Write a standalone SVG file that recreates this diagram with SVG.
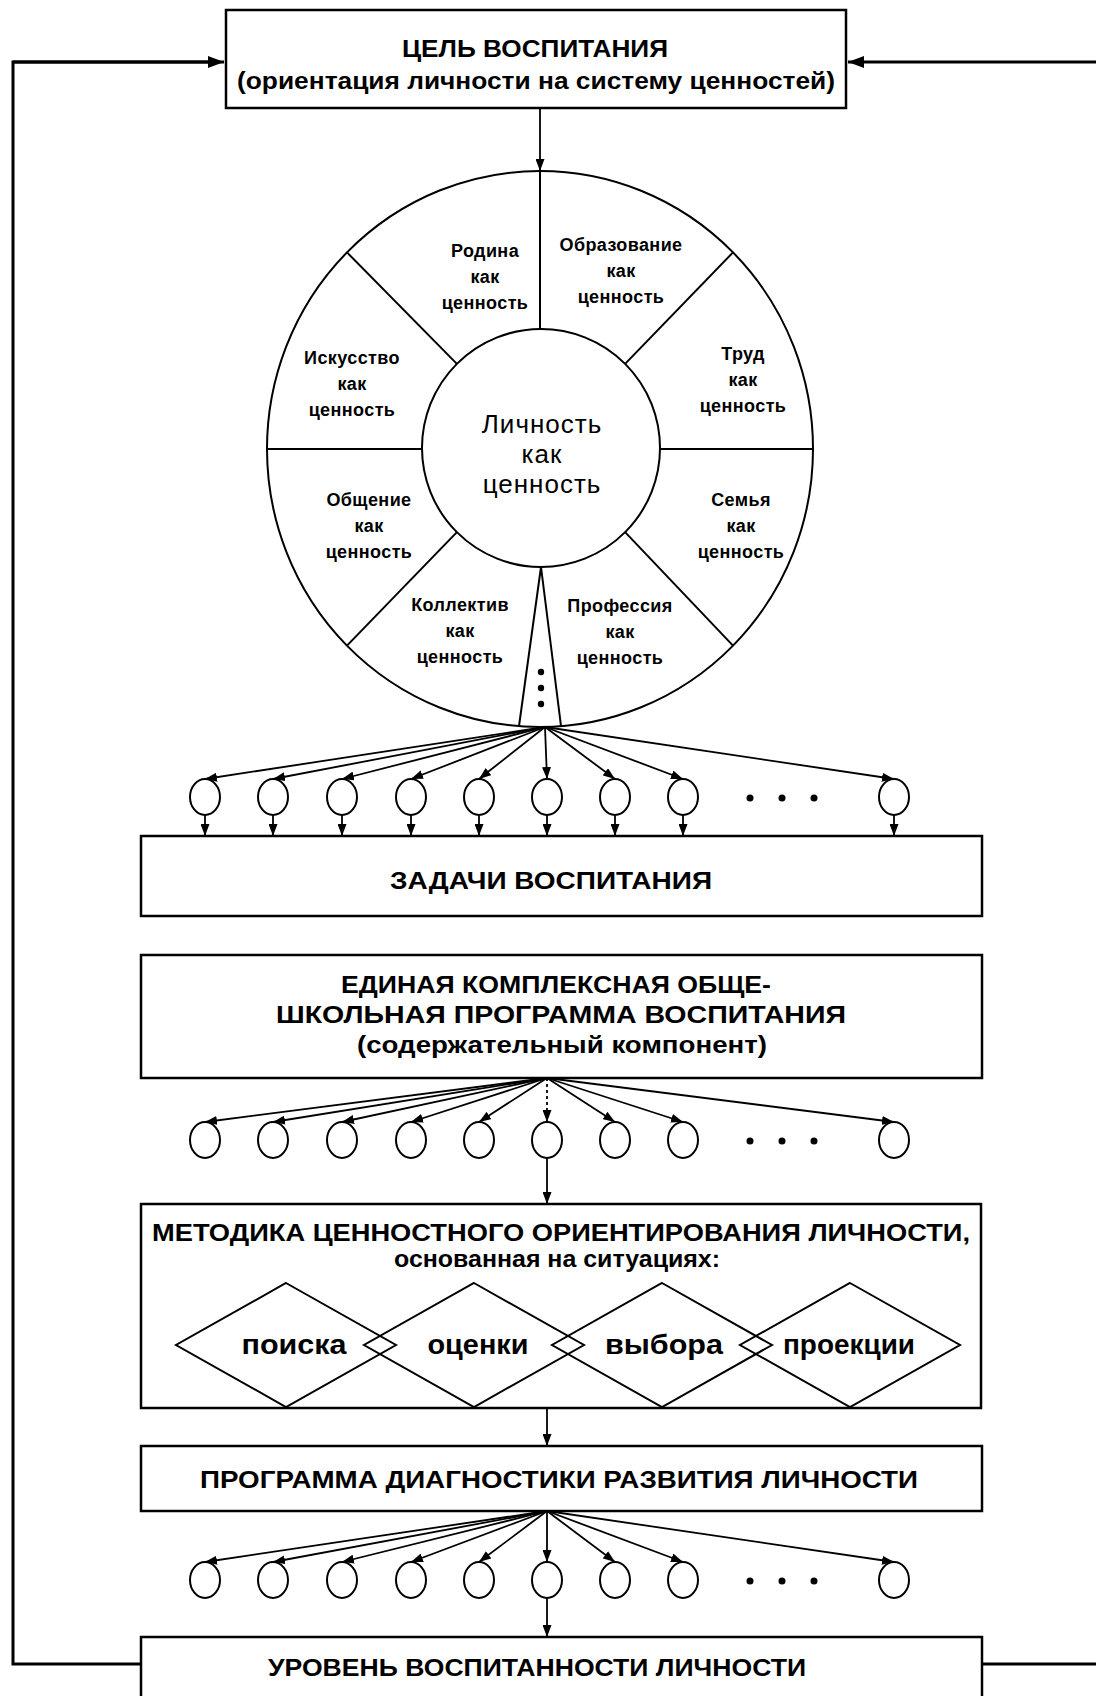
<svg xmlns="http://www.w3.org/2000/svg" width="1096" height="1696" viewBox="0 0 1096 1696">
<style>
.box{fill:#fff;stroke:#000;stroke-width:2.5}
.ln{fill:none;stroke:#000;stroke-width:2}
.fb{fill:none;stroke:#000;stroke-width:3}
.ar{fill:none;stroke:#000;stroke-width:1.8;marker-end:url(#ah)}
.c{fill:#fff;stroke:#000;stroke-width:2}
.dot{fill:#000}
text{font-family:"Liberation Sans",Arial,sans-serif;fill:#000;text-anchor:middle}
.h{font-weight:bold;font-size:23px}
.w{font-weight:bold;font-size:18px;letter-spacing:0.4px}
.p{font-size:26px;letter-spacing:1px}
.d{font-weight:bold;font-size:27px}
</style>
<defs>
<marker id="ah" markerUnits="userSpaceOnUse" markerWidth="12" markerHeight="9" refX="12" refY="4.5" orient="auto"><path d="M0,0 L12,4.5 L0,9 z" fill="#000"/></marker>
<marker id="ahb" markerUnits="userSpaceOnUse" markerWidth="16" markerHeight="12" refX="16" refY="6" orient="auto"><path d="M0,0 L16,6 L0,12 z" fill="#000"/></marker>
</defs>

<g id="connectors">
<polyline class="fb" points="141,1664 13,1664 13,62 210,62"/>
<line class="fb" x1="13" y1="62" x2="224" y2="62" marker-end="url(#ahb)"/>
<line class="fb" x1="1096" y1="62" x2="848" y2="62" marker-end="url(#ahb)"/>
<line class="fb" x1="982" y1="1664" x2="1096" y2="1664"/>
<line class="ar" x1="540" y1="108" x2="540" y2="171"/>
<g id="fan1">
<line class="ar" x1="545" y1="727" x2="205" y2="779"/>
<line class="ar" x1="545" y1="727" x2="273" y2="779"/>
<line class="ar" x1="545" y1="727" x2="342" y2="779"/>
<line class="ar" x1="545" y1="727" x2="411" y2="779"/>
<line class="ar" x1="545" y1="727" x2="479" y2="779"/>
<line class="ar" x1="545" y1="727" x2="547" y2="779"/>
<line class="ar" x1="545" y1="727" x2="615" y2="779"/>
<line class="ar" x1="545" y1="727" x2="683" y2="779"/>
<line class="ar" x1="545" y1="727" x2="894" y2="779"/>
<line class="ar" x1="205" y1="815" x2="205" y2="836"/>
<line class="ar" x1="273" y1="815" x2="273" y2="836"/>
<line class="ar" x1="342" y1="815" x2="342" y2="836"/>
<line class="ar" x1="411" y1="815" x2="411" y2="836"/>
<line class="ar" x1="479" y1="815" x2="479" y2="836"/>
<line class="ar" x1="547" y1="815" x2="547" y2="836"/>
<line class="ar" x1="615" y1="815" x2="615" y2="836"/>
<line class="ar" x1="683" y1="815" x2="683" y2="836"/>
<line class="ar" x1="894" y1="815" x2="894" y2="836"/>
</g>
<g id="fan2">
<line class="ar" x1="547" y1="1078" x2="205" y2="1122"/>
<line class="ar" x1="547" y1="1078" x2="273" y2="1122"/>
<line class="ar" x1="547" y1="1078" x2="342" y2="1122"/>
<line class="ar" x1="547" y1="1078" x2="411" y2="1122"/>
<line class="ar" x1="547" y1="1078" x2="479" y2="1122"/>
<line class="ar" x1="547" y1="1078" x2="547" y2="1122" stroke-dasharray="3,3"/>
<line class="ar" x1="547" y1="1078" x2="615" y2="1122"/>
<line class="ar" x1="547" y1="1078" x2="683" y2="1122"/>
<line class="ar" x1="547" y1="1078" x2="894" y2="1122"/>
<line class="ar" x1="547" y1="1158" x2="547" y2="1204"/>
</g>
<line class="ar" x1="547" y1="1408" x2="547" y2="1446"/>
<g id="fan3">
<line class="ar" x1="547" y1="1511" x2="205" y2="1562"/>
<line class="ar" x1="547" y1="1511" x2="273" y2="1562"/>
<line class="ar" x1="547" y1="1511" x2="342" y2="1562"/>
<line class="ar" x1="547" y1="1511" x2="411" y2="1562"/>
<line class="ar" x1="547" y1="1511" x2="479" y2="1562"/>
<line class="ar" x1="547" y1="1511" x2="547" y2="1562"/>
<line class="ar" x1="547" y1="1511" x2="615" y2="1562"/>
<line class="ar" x1="547" y1="1511" x2="683" y2="1562"/>
<line class="ar" x1="547" y1="1511" x2="894" y2="1562"/>
<line class="ar" x1="547" y1="1598" x2="547" y2="1637"/>
</g>
</g>

<g id="goal">
<rect class="box" x="226" y="10" width="620" height="98"/>
<text class="h" x="535" y="57" textLength="266" lengthAdjust="spacingAndGlyphs">ЦЕЛЬ ВОСПИТАНИЯ</text>
<text class="h" x="536" y="89" font-size="22" textLength="598" lengthAdjust="spacingAndGlyphs">(ориентация личности на систему ценностей)</text>
</g>

<g id="wheel">
<ellipse class="c" cx="540" cy="449" rx="273" ry="278"/>
<circle class="c" cx="541" cy="448" r="119"/>
<line class="ln" x1="540" y1="171" x2="540" y2="329"/>
<line class="ln" x1="456.9" y1="363.9" x2="347" y2="252.4"/>
<line class="ln" x1="625.1" y1="363.9" x2="733" y2="252.4"/>
<line class="ln" x1="456.9" y1="532.1" x2="347" y2="645.6"/>
<line class="ln" x1="625.1" y1="532.1" x2="733" y2="645.6"/>
<line class="ln" x1="422" y1="449" x2="267" y2="449"/>
<line class="ln" x1="660" y1="449" x2="813" y2="449"/>
<polyline class="ln" points="519,726 541,567 561,726"/>
<circle class="dot" cx="541" cy="672" r="3.2"/>
<circle class="dot" cx="541" cy="688" r="3.2"/>
<circle class="dot" cx="541" cy="704" r="3.2"/>
<g id="s-rodina"><text class="w" x="485" y="257">Родина</text><text class="w" x="485" y="283">как</text><text class="w" x="485" y="309">ценность</text></g>
<g id="s-obraz"><text class="w" x="621" y="251">Образование</text><text class="w" x="621" y="277">как</text><text class="w" x="621" y="303">ценность</text></g>
<g id="s-iskus"><text class="w" x="352" y="364">Искусство</text><text class="w" x="352" y="390">как</text><text class="w" x="352" y="416">ценность</text></g>
<g id="s-trud"><text class="w" x="743" y="360">Труд</text><text class="w" x="743" y="386">как</text><text class="w" x="743" y="412">ценность</text></g>
<g id="s-lichn"><text class="p" x="542" y="433">Личность</text><text class="p" x="542" y="463">как</text><text class="p" x="542" y="493">ценность</text></g>
<g id="s-obsch"><text class="w" x="369" y="506">Общение</text><text class="w" x="369" y="532">как</text><text class="w" x="369" y="558">ценность</text></g>
<g id="s-semya"><text class="w" x="741" y="506">Семья</text><text class="w" x="741" y="532">как</text><text class="w" x="741" y="558">ценность</text></g>
<g id="s-koll"><text class="w" x="460" y="611">Коллектив</text><text class="w" x="460" y="637">как</text><text class="w" x="460" y="663">ценность</text></g>
<g id="s-prof"><text class="w" x="620" y="612">Профессия</text><text class="w" x="620" y="638">как</text><text class="w" x="620" y="664">ценность</text></g>
</g>

<g id="row1">
<ellipse class="c" cx="205" cy="797" rx="15" ry="18"/><ellipse class="c" cx="273" cy="797" rx="15" ry="18"/><ellipse class="c" cx="342" cy="797" rx="15" ry="18"/><ellipse class="c" cx="411" cy="797" rx="15" ry="18"/><ellipse class="c" cx="479" cy="797" rx="15" ry="18"/><ellipse class="c" cx="547" cy="797" rx="15" ry="18"/><ellipse class="c" cx="615" cy="797" rx="15" ry="18"/><ellipse class="c" cx="683" cy="797" rx="15" ry="18"/><ellipse class="c" cx="894" cy="797" rx="15" ry="18"/>
<circle class="dot" cx="750" cy="798" r="3.5"/><circle class="dot" cx="782" cy="798" r="3.5"/><circle class="dot" cx="814" cy="798" r="3.5"/>
</g>

<g id="tasks">
<rect class="box" x="141" y="836" width="841" height="80"/>
<text class="h" x="551" y="889" font-size="24" textLength="322" lengthAdjust="spacingAndGlyphs">ЗАДАЧИ ВОСПИТАНИЯ</text>
</g>

<g id="program">
<rect class="box" x="141" y="955" width="841" height="123"/>
<text class="h" x="556" y="993" textLength="430" lengthAdjust="spacingAndGlyphs">ЕДИНАЯ КОМПЛЕКСНАЯ ОБЩЕ-</text>
<text class="h" x="561" y="1023" textLength="570" lengthAdjust="spacingAndGlyphs">ШКОЛЬНАЯ ПРОГРАММА ВОСПИТАНИЯ</text>
<text class="h" x="562" y="1053" font-size="22" textLength="410" lengthAdjust="spacingAndGlyphs">(содержательный компонент)</text>
</g>

<g id="row2">
<ellipse class="c" cx="205" cy="1140" rx="15" ry="18"/><ellipse class="c" cx="273" cy="1140" rx="15" ry="18"/><ellipse class="c" cx="342" cy="1140" rx="15" ry="18"/><ellipse class="c" cx="411" cy="1140" rx="15" ry="18"/><ellipse class="c" cx="479" cy="1140" rx="15" ry="18"/><ellipse class="c" cx="547" cy="1140" rx="15" ry="18"/><ellipse class="c" cx="615" cy="1140" rx="15" ry="18"/><ellipse class="c" cx="683" cy="1140" rx="15" ry="18"/><ellipse class="c" cx="894" cy="1140" rx="15" ry="18"/>
<circle class="dot" cx="750" cy="1141" r="3.5"/><circle class="dot" cx="782" cy="1141" r="3.5"/><circle class="dot" cx="814" cy="1141" r="3.5"/>
</g>

<g id="method">
<rect class="box" x="141" y="1204" width="840" height="204"/>
<text class="h" x="561" y="1241" font-size="24" textLength="818" lengthAdjust="spacingAndGlyphs">МЕТОДИКА ЦЕННОСТНОГО ОРИЕНТИРОВАНИЯ ЛИЧНОСТИ,</text>
<text class="h" x="557" y="1267" font-size="19" textLength="326" lengthAdjust="spacingAndGlyphs">основанная на ситуациях:</text>
<polygon class="ln" points="286,1283 396,1345 286,1407 176,1345"/>
<polygon class="ln" points="474,1283 584,1345 474,1407 364,1345"/>
<polygon class="ln" points="662,1283 772,1345 662,1407 552,1345"/>
<polygon class="ln" points="850,1283 960,1345 850,1407 740,1345"/>
<text class="d" x="294" y="1354" textLength="105" lengthAdjust="spacingAndGlyphs">поиска</text>
<text class="d" x="478" y="1354" textLength="101" lengthAdjust="spacingAndGlyphs">оценки</text>
<text class="d" x="664" y="1354" textLength="118" lengthAdjust="spacingAndGlyphs">выбора</text>
<text class="d" x="849" y="1354" textLength="132" lengthAdjust="spacingAndGlyphs">проекции</text>
</g>

<g id="diag">
<rect class="box" x="141" y="1446" width="841" height="65"/>
<text class="h" x="559" y="1488" font-size="24" textLength="718" lengthAdjust="spacingAndGlyphs">ПРОГРАММА ДИАГНОСТИКИ РАЗВИТИЯ ЛИЧНОСТИ</text>
</g>

<g id="row3">
<ellipse class="c" cx="205" cy="1580" rx="15" ry="18"/><ellipse class="c" cx="273" cy="1580" rx="15" ry="18"/><ellipse class="c" cx="342" cy="1580" rx="15" ry="18"/><ellipse class="c" cx="411" cy="1580" rx="15" ry="18"/><ellipse class="c" cx="479" cy="1580" rx="15" ry="18"/><ellipse class="c" cx="547" cy="1580" rx="15" ry="18"/><ellipse class="c" cx="615" cy="1580" rx="15" ry="18"/><ellipse class="c" cx="683" cy="1580" rx="15" ry="18"/><ellipse class="c" cx="894" cy="1580" rx="15" ry="18"/>
<circle class="dot" cx="750" cy="1581" r="3.5"/><circle class="dot" cx="782" cy="1581" r="3.5"/><circle class="dot" cx="814" cy="1581" r="3.5"/>
</g>

<g id="level">
<rect class="box" x="141" y="1637" width="841" height="80"/>
<text class="h" x="537" y="1676" font-size="24" textLength="538" lengthAdjust="spacingAndGlyphs">УРОВЕНЬ ВОСПИТАННОСТИ ЛИЧНОСТИ</text>
</g>
</svg>
